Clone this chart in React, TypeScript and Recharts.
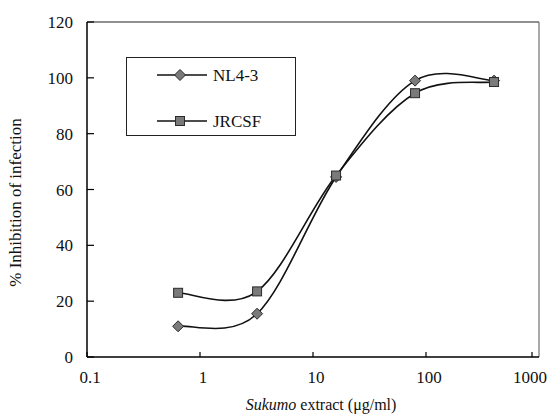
import React from 'react';
import {
  LineChart,
  Line,
  XAxis,
  YAxis,
  Legend,
  ReferenceLine,
} from 'recharts';

// extract concentration (ug/ml), 5-fold dilutions
const concentrations = [0.64, 3.2, 16, 80, 400];
const nl43 = [11, 15.5, 64.5, 99, 99];
const jrcsf = [23, 23.5, 65, 94.5, 98.5];

const xTicks = [0.1, 1, 10, 100, 1000];
const yTicks = [0, 20, 40, 60, 80, 100, 120];

const data = concentrations.map((c, i) => ({
  conc: c,
  nl43: nl43[i],
  jrcsf: jrcsf[i],
}));

const W = 548;
const H = 417;
const FONT = '"Liberation Serif", "Times New Roman", serif';
const MARK_FILL = '#7a7a7a';
const MARK_STROKE = '#2a2a2a';
const textStyle = { fontFamily: FONT };

// Excel-style smoothed line (Catmull-Rom through the points)
const smoothCurve = (context: any) => {
  let pts: number[][] = [];
  return {
    areaStart() {},
    areaEnd() {},
    lineStart() {
      pts = [];
    },
    point(x: number, y: number) {
      pts.push([+x, +y]);
    },
    lineEnd() {
      if (!pts.length) return;
      context.moveTo(pts[0][0], pts[0][1]);
      for (let i = 0; i < pts.length - 1; i++) {
        const p0 = pts[Math.max(i - 1, 0)];
        const p1 = pts[i];
        const p2 = pts[i + 1];
        const p3 = pts[Math.min(i + 2, pts.length - 1)];
        context.bezierCurveTo(
          p1[0] + (p2[0] - p0[0]) / 6,
          p1[1] + (p2[1] - p0[1]) / 6,
          p2[0] - (p3[0] - p1[0]) / 6,
          p2[1] - (p3[1] - p1[1]) / 6,
          p2[0],
          p2[1],
        );
      }
    },
  };
};

const Diamond = ({ cx, cy }: any) => {
  if (cx == null || cy == null) return null;
  const r = 5.5;
  return (
    <polygon
      points={`${cx},${cy - r} ${cx + r},${cy} ${cx},${cy + r} ${cx - r},${cy}`}
      fill={MARK_FILL}
      stroke={MARK_STROKE}
      strokeWidth={1}
    />
  );
};

const Square = ({ cx, cy }: any) => {
  if (cx == null || cy == null) return null;
  const s = 9;
  return (
    <rect
      x={cx - s / 2}
      y={cy - s / 2}
      width={s}
      height={s}
      fill={MARK_FILL}
      stroke={MARK_STROKE}
      strokeWidth={1}
    />
  );
};

const YTick = (props: any) => {
  const { x, y, payload } = props;
  return (
    <g>
      <line x1={x + 14} x2={x + 21} y1={y} y2={y} stroke="#000" strokeWidth={1.2} />
      <text x={x} y={y} dy={6} textAnchor="end" style={textStyle} fontSize={17} fill="#111">
        {payload.value}
      </text>
    </g>
  );
};

const XTick = (props: any) => {
  const { x, y, payload } = props;
  const label = String(payload.value);
  const half = (label.length * 17 * 0.5) / 2;
  const tx = Math.min(x + 3, W - 1 - half);
  return (
    <g>
      <line x1={x} x2={x} y1={y - 14} y2={y - 19} stroke="#000" strokeWidth={1.2} />
      <text x={tx} y={y} dy={12} textAnchor="middle" style={textStyle} fontSize={17} fill="#111">
        {label}
      </text>
    </g>
  );
};

const LegendBox = () => {
  const rows = [
    { name: 'NL4-3', Mark: Diamond, y: 18 },
    { name: 'JRCSF', Mark: Square, y: 64 },
  ];
  return (
    <div
      style={{
        width: 170,
        height: 79,
        border: '1.5px solid #222',
        boxSizing: 'border-box',
        position: 'relative',
        background: '#fff',
      }}
    >
      <svg width={170} height={79} style={{ position: 'absolute', left: -1.5, top: -1.5 }}>
        {rows.map((r) => (
          <g key={r.name}>
            <line x1={31} x2={81} y1={r.y} y2={r.y} stroke="#111" strokeWidth={1.5} />
            <r.Mark cx={54} cy={r.y} />
            <text x={87} y={r.y + 6} style={textStyle} fontSize={17} fill="#111">
              {r.name}
            </text>
          </g>
        ))}
      </svg>
    </div>
  );
};

export default function App() {
  return (
    <div style={{ position: 'absolute', left: 0, top: 0, width: W, height: H, background: '#fff' }}>
      <LineChart
        width={W}
        height={H}
        data={data}
        margin={{ top: 22, right: 9, left: 0, bottom: 0 }}
      >
        <XAxis
          dataKey="conc"
          type="number"
          scale="log"
          domain={[0.1, 1000]}
          ticks={xTicks}
          allowDataOverflow
          height={60}
          tickLine={false}
          tickSize={0}
          tickMargin={14}
          axisLine={{ stroke: '#000', strokeWidth: 1.5 }}
          tick={<XTick />}
          label={{
            content: ({ viewBox }: any) => (
              <text
                x={viewBox.x + viewBox.width / 2 + 8}
                y={viewBox.y + 53}
                textAnchor="middle"
                style={textStyle}
                fontSize={16}
                fill="#111"
              >
                <tspan fontStyle="italic">Sukumo</tspan> extract (μg/ml)
              </text>
            ),
          }}
        />
        <YAxis
          type="number"
          domain={[0, 120]}
          ticks={yTicks}
          width={87}
          tickLine={false}
          tickSize={0}
          tickMargin={14}
          axisLine={{ stroke: '#000', strokeWidth: 1.5 }}
          tick={<YTick />}
          label={{
            content: ({ viewBox }: any) => {
              const cx = viewBox.x + 15;
              const cy = viewBox.y + viewBox.height / 2 + 13;
              return (
                <text
                  x={cx}
                  y={cy}
                  transform={`rotate(-90, ${cx}, ${cy})`}
                  textAnchor="middle"
                  dominantBaseline="central"
                  style={textStyle}
                  fontSize={17}
                  fill="#111"
                >
                  % Inhibition of infection
                </text>
              );
            },
          }}
        />
        <ReferenceLine y={120} stroke="#222" strokeWidth={1.2} />
        <ReferenceLine x={1000} stroke="#555" strokeWidth={1} />
        <Legend
          layout="horizontal"
          verticalAlign="middle"
          align="center"
          content={<LegendBox />}
          wrapperStyle={{ left: 126, top: 57, width: 170, height: 79 }}
        />
        <Line
          dataKey="nl43"
          name="NL4-3"
          type={smoothCurve as any}
          stroke="#111"
          strokeWidth={1.6}
          dot={<Diamond />}
          activeDot={false}
          isAnimationActive={false}
        />
        <Line
          dataKey="jrcsf"
          name="JRCSF"
          type={smoothCurve as any}
          stroke="#111"
          strokeWidth={1.6}
          dot={<Square />}
          activeDot={false}
          isAnimationActive={false}
        />
      </LineChart>
    </div>
  );
}
